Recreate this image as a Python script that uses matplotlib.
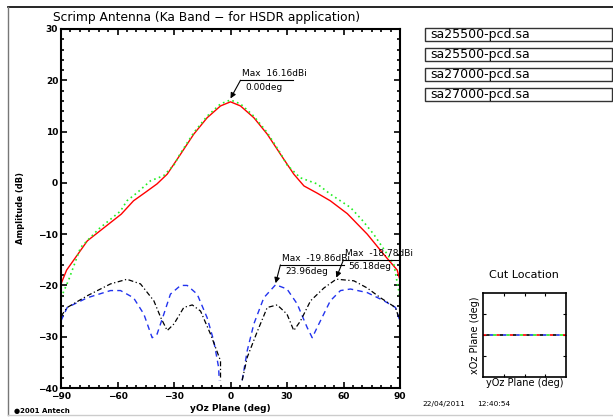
import numpy as np
import matplotlib.pyplot as plt
from matplotlib.lines import Line2D
from matplotlib.patches import Rectangle

# ---- data (angle deg, amplitude dB) ----
red_deg = [-90, -87, -76, -58, -51.5, -45, -39, -33.6, -26.5, -19.5, -12.4, -5.3, 0,
           5.3, 12.4, 19.5, 26.5, 33.6, 39, 46, 53, 62, 72.6, 81.5, 88.5, 90]
red_db = [-19.7, -17, -11.3, -6.1, -3.5, -1.8, -0.2, 1.7, 5.6, 9.5, 12.7, 15.0, 15.8,
          15.0, 12.7, 9.5, 5.6, 1.7, -0.6, -2.0, -3.5, -6.0, -10.0, -14.0, -17.0, -19.0]

green_deg = [-90, -86, -79.6, -70, -58.4, -55, -49.5, -42.5, -35.5, -30, -26.5, -19.5,
             -12.4, -5.3, 0, 5.3, 12.4, 19.5, 26.5, 30, 37, 46, 53, 63.7, 70, 76, 86.7, 90]
green_db = [-22.4, -19, -12.6, -9, -5.5, -3.5, -1.9, 0.4, 1.4, 3.5, 5.8, 9.8,
            13.0, 15.4, 16.16, 15.4, 13.0, 9.8, 5.8, 3.5, 1.0, -0.2, -2.2, -4.8, -7.3, -10.0, -15.8, -22.4]

blue_deg = [-90, -86.7, -76, -63.7, -58.4, -51.5, -46, -41.6, -39, -35.4, -31.9, -26.5,
            -23, -17.7, -12.4, -8.9, -6.3, -6,
            None,
            6.2, 8.9, 12.4, 17.7, 23.96, 30, 35.4, 40.7, 43.4, 46, 53, 58.4, 63.7, 72.6,
            81.5, 87.6, 90]
blue_db = [-26.9, -24.3, -22.4, -21, -21, -22.4, -25.6, -30.2, -29.5, -25.6, -21.7, -20,
           -20, -21.7, -26.3, -30.8, -36, -38.5,
           None,
           -38.5, -32.7, -27.5, -22.4, -19.86, -20.7, -23.6, -28.2, -30.2, -28.2, -23, -21,
           -20.7, -21.4, -23, -24.3, -27]

black_deg = [-90, -86.7, -76, -63.7, -55, -47.8, -40.7, -37, -33.6, -30, -24.8, -20.3,
             -15.9, -10.6, -5.3, -5.3,
             None,
             6.2, 8.9, 14.2, 19.5, 24.8, 30, 33.6, 37.2, 42.5, 49.6, 56.18, 65.5, 72.6,
             79.6, 87.6, 90]
black_db = [-26, -24.3, -22, -19.7, -18.8, -19.7, -23, -26.3, -28.8, -27.5, -24.3, -23.8,
            -25, -29.5, -34.7, -38.5,
            None,
            -38.5, -34, -29, -24.3, -23.8, -25.6, -28.8, -26.9, -23, -20.5, -18.78, -19.1,
            -20.5, -22.4, -24.3, -27]

legend_names = ['sa25500-pcd.sa', 'sa25500-pcd.sa', 'sa27000-pcd.sa', 'sa27000-pcd.sa']
x_ticks = [-90, -60, -30, 0, 30, 60, 90]
y_ticks = [-40, -30, -20, -10, 0, 10, 20, 30]


def arr(v):
    return np.array([np.nan if a is None else a for a in v], dtype=float)


W, H = 613, 417
fig = plt.figure(figsize=(W / 100, H / 100), dpi=100)
plt.rcParams['font.family'] = 'DejaVu Sans'


def fx(px):
    return px / W


def fy(py):
    return 1 - py / H


# main axes: x=-90 at px 61, x=90 at px 400; y=30 at px 29, y=-40 at px 388
ax = fig.add_axes([fx(61), fy(388), fx(400) - fx(61), fy(29) - fy(388)])
ax.plot(arr(red_deg), arr(red_db), color='red', lw=1.0, ls='-')
ax.plot(arr(green_deg), arr(green_db), color='#22ee22', lw=1.2, ls=(0, (1, 2)))
ax.plot(arr(blue_deg), arr(blue_db), color='#2233ee', lw=1.0, ls=(0, (4, 3)))
ax.plot(arr(black_deg), arr(black_db), color='black', lw=0.9, ls=(0, (4, 2, 1, 2)))

ax.set_xlim(-90, 90)
ax.set_ylim(-40, 30)
ax.set_xticks(x_ticks)
ax.set_yticks(y_ticks)
ax.set_xticks(np.arange(-90, 91, 5), minor=True)
ax.set_yticks(np.arange(-40, 31, 2), minor=True)
ax.tick_params(which='both', direction='in', top=True, right=True,
               labelsize=6.5, pad=2, width=1.2)
ax.tick_params(axis='x', pad=3)
ax.tick_params(which='major', length=4)
ax.tick_params(which='minor', length=2)
for s in ax.spines.values():
    s.set_linewidth(1.5)
ax.set_yticklabels([str(t).replace('-', '\u2212') for t in y_ticks])
ax.set_xticklabels([str(t).replace('-', '\u2212') for t in x_ticks])
for lab in ax.get_xticklabels() + ax.get_yticklabels():
    lab.set_fontweight('bold')

ax.set_xlabel('yOz Plane (deg)', fontsize=6.5, fontweight='bold', labelpad=2)
ax.set_ylabel('Amplitude (dB)', fontsize=6, fontweight='bold')
ax.yaxis.set_label_coords(-0.106, 0.5)

# annotations of maxima
def max_note(xs, ys, lo, hi, tx, ty, w):
    xs, ys = arr(xs), arr(ys)
    m = (xs >= lo) & (xs <= hi)
    i = np.nanargmax(np.where(m, ys, -999))
    px, py = xs[i], ys[i]
    ax.annotate('', xy=(px, py + 0.3), xytext=(tx, ty),
                arrowprops=dict(arrowstyle='-|>', color='black', lw=0.8,
                                mutation_scale=8, shrinkA=0, shrinkB=0))
    ax.plot([tx, tx + w], [ty, ty], color='black', lw=0.8)
    ax.text(tx + 1, ty + 0.4, 'Max  %.2fdBi' % py, fontsize=6.5, ha='left', va='bottom')
    ax.text(tx + 2.5, ty - 0.5, '%.2fdeg' % px, fontsize=6.5, ha='left', va='top')

max_note(green_deg, green_db, -10, 10, 5.3, 20.0, 28)
max_note(blue_deg, blue_db, 10, 40, 26.5, -16.0, 33.5)
max_note(black_deg, black_db, 45, 70, 60.0, -15.0, 29)

fig.text(fx(207), fy(18), 'Scrimp Antenna (Ka Band \u2212 for HSDR application)',
         ha='center', va='center', fontsize=8.8)

# legend boxes
for k, name in enumerate(legend_names):
    y0 = 28 + 20 * k
    fig.patches.append(Rectangle((fx(425), fy(y0 + 13)), fx(612) - fx(425), fy(y0) - fy(y0 + 13),
                                 transform=fig.transFigure, fill=False, lw=1.0,
                                 edgecolor='#333333'))
    fig.text(fx(430), fy(y0 + 6.5), name, ha='left', va='center', fontsize=9)

# cut location inset
ax2 = fig.add_axes([fx(483), fy(377), fx(566) - fx(483), fy(293) - fy(377)])
cut_colors = ['red', '#22ee22', '#2233ee', 'black']
for c, off in zip(cut_colors, [0, 2, 4, 6]):
    ax2.plot([0, 1], [0.5, 0.5], color=c, lw=1.2, ls=(off, (2, 6)))
ax2.set_xlim(0, 1)
ax2.set_ylim(0, 1)
ax2.set_xticks([0.25, 0.5, 0.75])
ax2.set_yticks([0.25, 0.5, 0.75])
ax2.tick_params(direction='in', top=True, right=True, length=2,
                labelbottom=False, labelleft=False)
for s in ax2.spines.values():
    s.set_linewidth(1.2)
ax2.set_xlabel('yOz Plane (deg)', fontsize=7, labelpad=1)
ax2.set_ylabel('xOz Plane (deg)', fontsize=7, labelpad=2)
fig.text(fx(524), fy(275), 'Cut Location', ha='center', va='center', fontsize=8)

fig.text(fx(422), fy(404), '22/04/2011', ha='left', va='center', fontsize=5.3)
fig.text(fx(477), fy(404), '12:40:54', ha='left', va='center', fontsize=5.3)
fig.text(fx(14), fy(411), '\u25cf2001 Antech', ha='left', va='center', fontsize=5,
         fontweight='bold')

# outer frame lines
fig.lines.append(Line2D([fx(8), 1], [fy(7), fy(7)], transform=fig.transFigure,
                        color='black', lw=1.2))
fig.lines.append(Line2D([fx(8), fx(8)], [fy(7), fy(415)], transform=fig.transFigure,
                        color='#777777', lw=1.0))
fig.lines.append(Line2D([fx(8), 1], [fy(415), fy(415)], transform=fig.transFigure,
                        color='#cccccc', lw=1.0))

fig.savefig('out.png', dpi=100)
